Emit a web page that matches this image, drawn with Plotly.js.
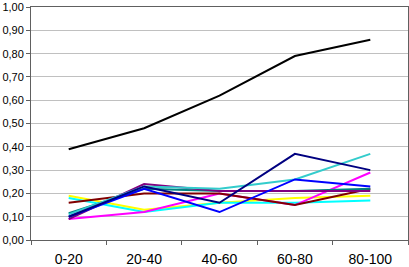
<!DOCTYPE html>
<html>
<head>
<meta charset="utf-8">
<script src="https://cdn.plot.ly/plotly-3.0.1.min.js"></script>
<style>html,body{margin:0;padding:0;background:#fff;}#chart{width:409px;height:267px;}</style>
</head>
<body>
<div id="chart"></div>
<script>
const categories = ["0-20", "20-40", "40-60", "60-80", "80-100"];
const blackSeries   = [0.39, 0.48, 0.62, 0.79, 0.86];
const navySeries    = [0.10, 0.23, 0.16, 0.37, 0.30];
const blueSeries    = [0.10, 0.22, 0.12, 0.26, 0.23];
const skySeries     = [0.11, 0.23, 0.22, 0.26, 0.37];
const cyanSeries    = [0.18, 0.12, 0.16, 0.16, 0.17];
const magentaSeries = [0.09, 0.12, 0.20, 0.15, 0.29];
const yellowSeries  = [0.19, 0.13, 0.16, 0.18, 0.19];
const darkRedSeries = [0.16, 0.20, 0.20, 0.15, 0.22];
const tealSeries    = [0.115, 0.22, 0.21, 0.21, 0.22];
const purpleSeries  = [0.09, 0.24, 0.21, 0.21, 0.21];
const yTickVals = [0, 0.1, 0.2, 0.3, 0.4, 0.5, 0.6, 0.7, 0.8, 0.9, 1.0];
const yTickText = ["0,00", "0,10", "0,20", "0,30", "0,40", "0,50", "0,60", "0,70", "0,80", "0,90", "1,00"];

const series = [
  {y: yellowSeries, color: "#FFFF00"},
  {y: cyanSeries, color: "#00FFFF"},
  {y: magentaSeries, color: "#FF00FF"},
  {y: darkRedSeries, color: "#800000"},
  {y: tealSeries, color: "#008080"},
  {y: purpleSeries, color: "#800080"},
  {y: skySeries, color: "#33CCCC"},
  {y: blueSeries, color: "#0000FF"},
  {y: navySeries, color: "#000080"},
  {y: blackSeries, color: "#000000"}
];

const traces = series.map(s => ({
  x: categories, y: s.y, type: "scatter", mode: "lines",
  line: {color: s.color, width: 2}, hoverinfo: "none"
}));

const layout = {
  width: 409, height: 267,
  margin: {l: 31, r: 1, t: 7, b: 27, pad: 0},
  paper_bgcolor: "#fff", plot_bgcolor: "#fff",
  showlegend: false,
  font: {family: "Liberation Sans, Arial, sans-serif", color: "#000"},
  xaxis: {
    type: "category", tickson: "boundaries", ticks: "outside", ticklen: 4, tickcolor: "#606060",
    showline: true, linecolor: "#606060", linewidth: 1, mirror: true,
    showgrid: false, tickfont: {size: 14}, ticklabelstandoff: 6,
    range: [-0.5, 4.5], fixedrange: true
  },
  yaxis: {
    range: [0, 1.0005], tickmode: "array", tickvals: yTickVals, ticktext: yTickText,
    ticks: "outside", ticklen: 4, tickcolor: "#606060",
    showline: true, linecolor: "#606060", linewidth: 1, mirror: true,
    showgrid: true, gridcolor: "#C0C0C0", gridwidth: 1,
    zeroline: false, tickfont: {size: 11}, ticklabelstandoff: 0, fixedrange: true
  }
};

Plotly.newPlot("chart", traces, layout, {displayModeBar: false, staticPlot: true});
</script>
</body>
</html>
